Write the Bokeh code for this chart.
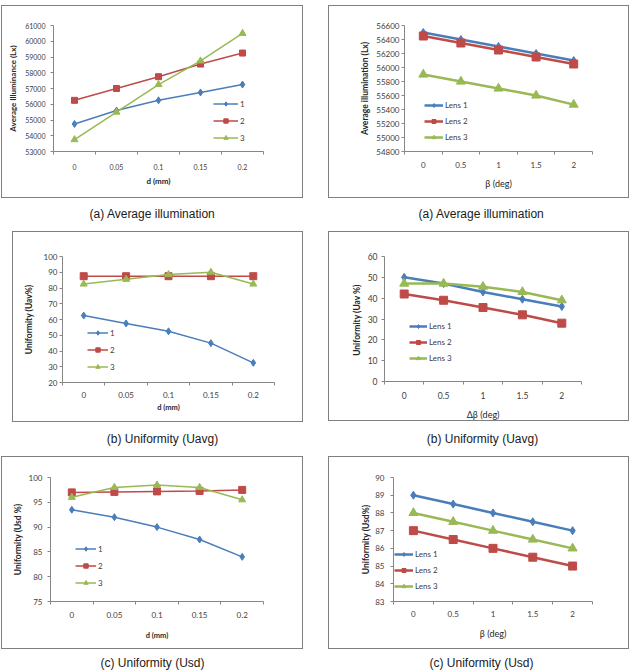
from bokeh.plotting import figure
from bokeh.models import Range1d, FixedTicker, Legend, LegendItem, Label, Spacer
from bokeh.layouts import column, row
from bokeh.embed import file_html
from bokeh.resources import INLINE

# ---------------- data ----------------
d_cats = ["0", "0.05", "0.1", "0.15", "0.2"]
beta_cats = ["0", "0.5", "1", "1.5", "2"]

num_names = ["1", "2", "3"]
lens_names = ["Lens 1", "Lens 2", "Lens 3"]

# (a) average illumination vs d
avg_d_1 = [54750, 55600, 56250, 56750, 57250]
avg_d_2 = [56250, 57000, 57750, 58550, 59250]
avg_d_3 = [53750, 55500, 57250, 58750, 60500]
avg_d_yticks = [53000, 54000, 55000, 56000, 57000, 58000, 59000, 60000, 61000]

# (a) average illumination vs beta
avg_b_1 = [56500, 56400, 56300, 56200, 56100]
avg_b_2 = [56450, 56350, 56250, 56150, 56050]
avg_b_3 = [55900, 55800, 55700, 55600, 55470]
avg_b_yticks = [54800, 55000, 55200, 55400, 55600, 55800, 56000, 56200, 56400, 56600]

# (b) uniformity Uavg vs d
uav_d_1 = [62.5, 57.5, 52.5, 45, 32.5]
uav_d_2 = [87.5, 87.5, 87.5, 87.5, 87.5]
uav_d_3 = [82.5, 85.5, 88.5, 90, 82.5]
uav_d_yticks = [20, 30, 40, 50, 60, 70, 80, 90, 100]

# (b) uniformity Uavg vs delta beta
uav_b_1 = [50, 47, 43, 39.5, 36]
uav_b_2 = [42, 39, 35.5, 32, 28]
uav_b_3 = [47, 47, 45.5, 43, 39]
uav_b_yticks = [0, 10, 20, 30, 40, 50, 60]

# (c) uniformity Usd vs d
usd_d_1 = [93.5, 92, 90, 87.5, 84]
usd_d_2 = [97, 97.1, 97.2, 97.3, 97.5]
usd_d_3 = [96, 98, 98.5, 98, 95.5]
usd_d_yticks = [75, 80, 85, 90, 95, 100]

# (c) uniformity Usd vs beta
usd_b_1 = [89, 88.5, 88, 87.5, 87]
usd_b_2 = [87, 86.5, 86, 85.5, 85]
usd_b_3 = [88, 87.5, 87, 86.5, 86]
usd_b_yticks = [83, 84, 85, 86, 87, 88, 89, 90]

captions = ["(a) Average illumination", "(b) Uniformity (Uavg)", "(c) Uniformity (Usd)"]

# ---------------- style ----------------
COLORS = ["#4A7EBB", "#BE4B48", "#98B954"]
MARKERS = ["diamond", "square", "triangle"]
AXIS = "#868686"
TICKTXT = "#404040"
TITLETXT = "#262626"
FONT = "Lato"
BOXSTYLE = {"border": "1px solid #7f7f7f"}


def make_chart(cfg, cats, series, names, yticks, ylab, xlab):
    n = len(cats)
    # the CSS border adds 1px on each side, so the canvas is 2px smaller
    p = figure(width=cfg["w"] - 2, height=cfg["h"] - 2,
               x_range=Range1d(-0.5, n - 0.5),
               y_range=Range1d(yticks[0], yticks[-1]),
               output_backend="svg", toolbar_location=None,
               min_border_left=cfg["fl"] - 1, min_border_right=cfg["fr"] - 1,
               min_border_top=cfg["ft"] - 1, min_border_bottom=cfg["fb"] - 1,
               outline_line_color=None, background_fill_color="white",
               border_fill_color="white", styles=BOXSTYLE)
    p.xgrid.visible = False
    p.ygrid.visible = False

    xs = list(range(n))
    items = []
    for i, (ys, name) in enumerate(zip(series, names)):
        lr = p.line(xs, ys, line_color=COLORS[i], line_width=cfg["lw"])
        sr = p.scatter(xs, ys, marker=MARKERS[i], size=cfg["ms"][i],
                       fill_color=COLORS[i], line_color=COLORS[i])
        items.append(LegendItem(label=name, renderers=[lr, sr]))

    leg = Legend(items=items, location=cfg["leg"], margin=0, padding=0,
                 glyph_width=cfg["lgw"], glyph_height=cfg["lgh"],
                 label_height=cfg["lgh"], label_width=10,
                 spacing=cfg["lsp"], label_standoff=cfg["lso"],
                 label_text_font=FONT, label_text_font_size=cfg["lfs"],
                 label_text_color=TICKTXT,
                 border_line_color=None, background_fill_alpha=0)
    p.add_layout(leg)

    xa = p.xaxis[0]
    xa.ticker = FixedTicker(ticks=xs, minor_ticks=[k - 0.5 for k in range(n + 1)])
    xa.major_label_overrides = {k: c for k, c in enumerate(cats)}
    xa.axis_line_color = AXIS
    xa.major_tick_line_color = None
    xa.major_tick_out = 0
    xa.major_tick_in = 0
    xa.minor_tick_line_color = AXIS
    xa.minor_tick_out = 3
    xa.minor_tick_in = 0
    xa.major_label_text_font = FONT
    xa.major_label_text_font_size = cfg["tfs"]
    xa.major_label_text_color = TICKTXT
    xa.major_label_standoff = cfg["xso"]
    xa.axis_label = xlab
    xa.axis_label_text_font = FONT
    xa.axis_label_text_font_size = cfg["xlfs"]
    xa.axis_label_text_font_style = cfg["xlst"]
    xa.axis_label_text_color = TITLETXT
    xa.axis_label_standoff = cfg["xlso"]

    ya = p.yaxis[0]
    ya.ticker = FixedTicker(ticks=yticks, minor_ticks=[])
    ya.axis_line_color = AXIS
    ya.major_tick_line_color = AXIS
    ya.major_tick_out = 3
    ya.major_tick_in = 0
    ya.minor_tick_line_color = None
    ya.major_label_text_font = FONT
    ya.major_label_text_font_size = cfg["tfs"]
    ya.major_label_text_color = TICKTXT
    ya.major_label_standoff = cfg["yso"]
    ya.axis_label = ylab
    ya.axis_label_text_font = FONT
    ya.axis_label_text_font_size = cfg["ylfs"]
    ya.axis_label_text_font_style = "bold"
    ya.axis_label_text_color = TITLETXT
    ya.axis_label_standoff = cfg["ylso"]
    return p


cfg1 = dict(w=304, h=195, fl=52, fr=42, ft=12, fb=43, lw=1.5, ms=[7, 6, 7],
            leg=(160, 8), lgw=25, lgh=11, lsp=6, lso=2, lfs="8px",
            tfs="7px", xso=9, xlfs="8px", xlst="bold", xlso=3,
            yso=5, ylfs="8px", ylso=4)
cfg2 = dict(w=303, h=195, fl=76, fr=39, ft=20, fb=49, lw=2.5, ms=[8, 8, 9],
            leg=(20, 9), lgw=19, lgh=10, lsp=6, lso=2, lfs="8px",
            tfs="8px", xso=7, xlfs="9px", xlst="normal", xlso=7,
            yso=2, ylfs="8.5px", ylso=3)
cfg3 = dict(w=293, h=193, fl=50, fr=31, ft=25, fb=42, lw=1.5, ms=[7, 7, 7],
            leg=(25, 10), lgw=21, lgh=11, lsp=6, lso=2, lfs="8px",
            tfs="8px", xso=6, xlfs="7.5px", xlst="bold", xlso=2,
            yso=2, ylfs="8.5px", ylso=7)
cfg4 = dict(w=303, h=192, fl=56, fr=50, ft=23, fb=42, lw=2.5, ms=[8, 8, 9],
            leg=(25, 18), lgw=18, lgh=10, lsp=6, lso=2, lfs="8px",
            tfs="8.5px", xso=7, xlfs="9px", xlst="normal", xlso=7,
            yso=4, ylfs="8.5px", ylso=3)
cfg5 = dict(w=304, h=195, fl=49, fr=42, ft=19, fb=50, lw=1.5, ms=[7, 7, 7],
            leg=(25, 13), lgw=21, lgh=11, lsp=6, lso=2, lfs="8px",
            tfs="8px", xso=7, xlfs="7.5px", xlst="bold", xlso=10,
            yso=5, ylfs="8.5px", ylso=3)
cfg6 = dict(w=303, h=195, fl=65, fr=39, ft=21, fb=48, lw=2.5, ms=[8, 8, 9],
            leg=(1, 10), lgw=19, lgh=10, lsp=6, lso=2, lfs="8px",
            tfs="8px", xso=6, xlfs="9px", xlst="normal", xlso=8,
            yso=6, ylfs="8.5px", ylso=1)

p1 = make_chart(cfg1, d_cats, [avg_d_1, avg_d_2, avg_d_3], num_names, avg_d_yticks,
                "Average Illuminance (Lx)", "d (mm)")
p2 = make_chart(cfg2, beta_cats, [avg_b_1, avg_b_2, avg_b_3], lens_names, avg_b_yticks,
                "Average illumination (Lx)", "β (deg)")
p3 = make_chart(cfg3, d_cats, [uav_d_1, uav_d_2, uav_d_3], num_names, uav_d_yticks,
                "Uniformity (Uav%)", "d (mm)")
p4 = make_chart(cfg4, beta_cats, [uav_b_1, uav_b_2, uav_b_3], lens_names, uav_b_yticks,
                "Uniformity (Uav  %)", "Δβ (deg)")
p5 = make_chart(cfg5, d_cats, [usd_d_1, usd_d_2, usd_d_3], num_names, usd_d_yticks,
                "Uniformity (Usd %)", "d (mm)")
p6 = make_chart(cfg6, beta_cats, [usd_b_1, usd_b_2, usd_b_3], lens_names, usd_b_yticks,
                "Uniformity (Usd%)", "β (deg)")


def caption_row(h, text, y, left_x, right_x):
    c = figure(width=638, height=h, x_range=Range1d(0, 638), y_range=Range1d(0, h),
               x_axis_type=None, y_axis_type=None, output_backend="svg",
               toolbar_location=None, min_border=0, outline_line_color=None,
               background_fill_color="white", border_fill_color="white")
    c.xgrid.visible = False
    c.ygrid.visible = False
    for x in (left_x, right_x):
        c.add_layout(Label(x=x, y=y, text=text, text_align="center",
                           text_baseline="middle", text_font="Liberation Sans",
                           text_font_size="12px", text_color="#1a1a1a"))
    return c


cap1 = caption_row(31, captions[0], 18, 152, 481)
cap2 = caption_row(32, captions[1], 18, 162, 482)
cap3 = caption_row(19, captions[2], 8, 152, 481)

layout = column(
    Spacer(width=638, height=5),
    row(Spacer(width=1, height=195), p1, Spacer(width=25, height=195), p2),
    cap1,
    row(Spacer(width=12, height=193), p3, Spacer(width=25, height=193), p4),
    cap2,
    row(Spacer(width=1, height=195), p5, Spacer(width=25, height=195), p6),
    cap3,
)

open("out.html", "w").write(file_html(layout, INLINE))
